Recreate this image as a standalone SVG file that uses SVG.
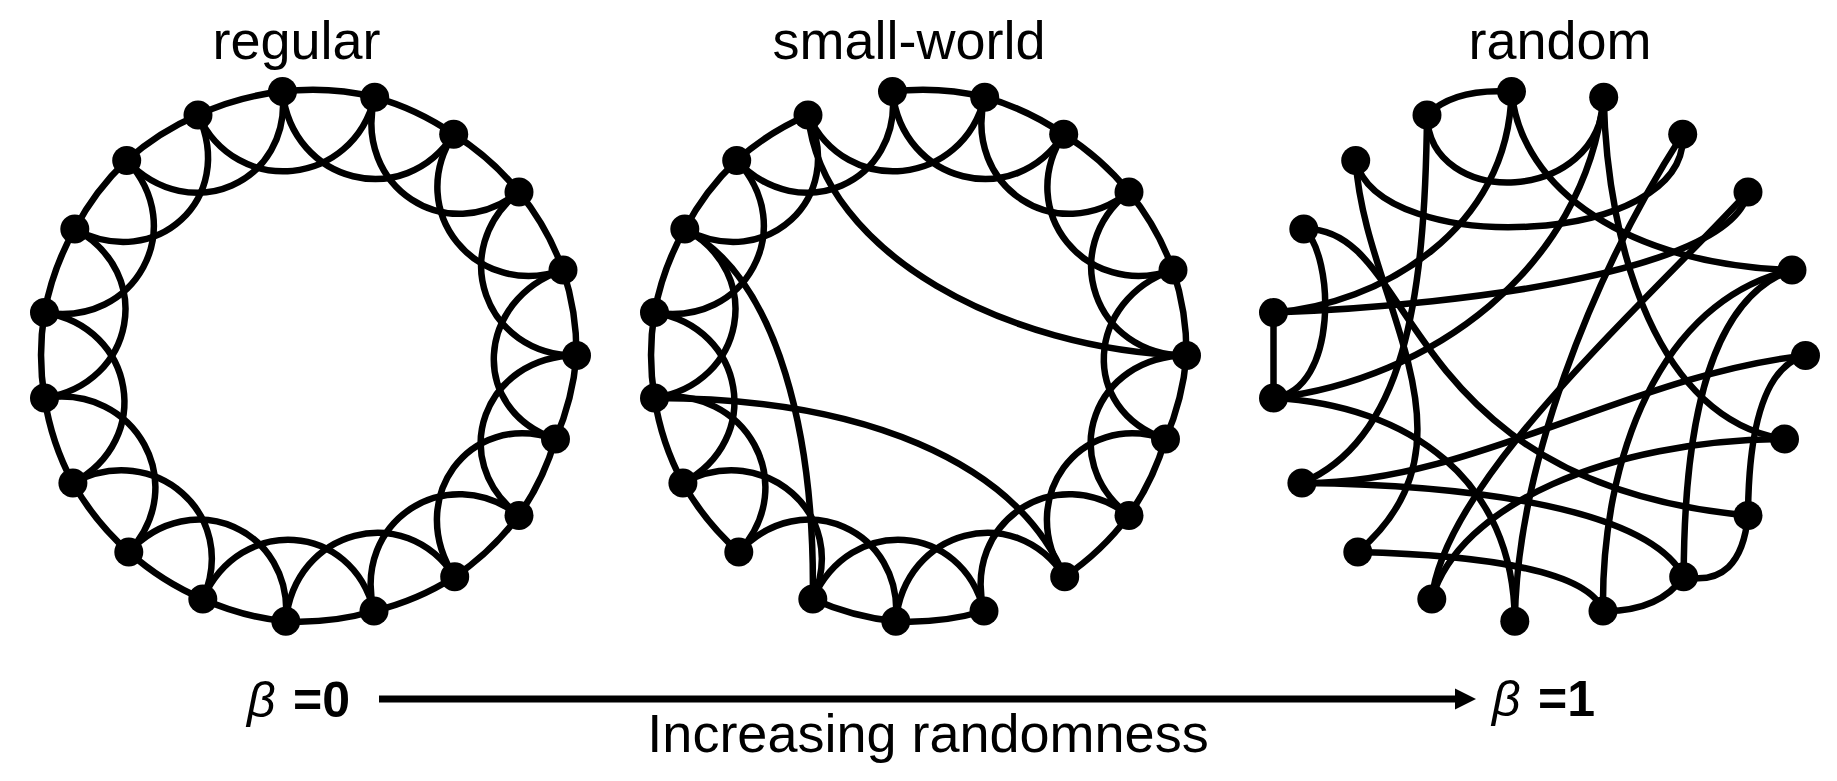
<svg xmlns="http://www.w3.org/2000/svg" width="1837" height="781" viewBox="0 0 1837 781">
<style>
.edges path{fill:none;stroke:#000;stroke-width:6.5;stroke-linecap:round}
.node use{fill:#000}
.lbl{font-family:"Liberation Sans",Arial,Helvetica,sans-serif;font-size:54px;fill:#000;text-anchor:middle}
.beta{font-family:"Liberation Sans",Arial,sans-serif;font-size:50px;font-style:italic;fill:#000}
.val{font-family:"Liberation Sans",Arial,sans-serif;font-size:50px;font-weight:bold;fill:#000}
</style>
<defs>
<marker id="ah" markerUnits="userSpaceOnUse" markerWidth="22" markerHeight="22" refX="3" refY="11" orient="auto">
<path d="M0,0.5 L21,11 L0,21.5 z" fill="#000"/>
</marker>
<circle id="dot" r="14.5"/>
</defs>

<text class="lbl" x="296.5" y="59">regular</text>
<text class="lbl" x="909" y="59">small-world</text>
<text class="lbl" x="1560" y="59">random</text>

<!-- REGULAR -->
<g id="regular">
<g id="regular-edges" class="edges">
<path d="M282.5,91.6 A266,266 0 0 1 374.7,97.2"/>
<path d="M374.7,97.2 A266,266 0 0 1 453.7,134.3"/>
<path d="M453.7,134.3 A266,266 0 0 1 519,192"/>
<path d="M519,192 A266,266 0 0 1 563,270"/>
<path d="M563,270 A266,266 0 0 1 576.5,355.5"/>
<path d="M576.5,355.5 A266,266 0 0 1 555.5,439"/>
<path d="M555.5,439 A266,266 0 0 1 519,515.4"/>
<path d="M519,515.4 A266,266 0 0 1 454.7,576.7"/>
<path d="M454.7,576.7 A266,266 0 0 1 374,611"/>
<path d="M374,611 A266,266 0 0 1 285.8,621.3"/>
<path d="M285.8,621.3 A266,266 0 0 1 202.8,599"/>
<path d="M202.8,599 A266,266 0 0 1 128.8,552"/>
<path d="M128.8,552 A266,266 0 0 1 72.9,483"/>
<path d="M72.9,483 A266,266 0 0 1 44.5,398"/>
<path d="M44.5,398 A266,266 0 0 1 44.5,312.5"/>
<path d="M44.5,312.5 A266,266 0 0 1 74.8,229"/>
<path d="M74.8,229 A266,266 0 0 1 126.7,160.4"/>
<path d="M126.7,160.4 A266,266 0 0 1 198,115"/>
<path d="M198,115 A266,266 0 0 1 282.5,91.6"/>
<path d="M282.5,91.6 C292.2,183.1 403.9,211.6 453.7,134.3"/>
<path d="M374.7,97.2 C352.6,186.5 446.8,249 519,192"/>
<path d="M453.7,134.3 C403.9,211.6 476,299.8 563,270"/>
<path d="M519,192 C446.8,249 484.5,355.8 576.5,355.5"/>
<path d="M563,270 C476,299.8 468.3,409.6 555.5,439"/>
<path d="M576.5,355.5 C484.5,355.8 445.8,459.6 519,515.4"/>
<path d="M555.5,439 C468.3,409.6 404.3,499.7 454.7,576.7"/>
<path d="M519,515.4 C445.8,459.6 351.7,521.7 374,611"/>
<path d="M454.7,576.7 C404.3,499.7 294.3,529.7 285.8,621.3"/>
<path d="M374,611 C351.7,521.7 240.2,514.9 202.8,599"/>
<path d="M285.8,621.3 C294.3,529.7 191.4,484.6 128.8,552"/>
<path d="M202.8,599 C240.2,514.9 154.1,439.8 72.9,483"/>
<path d="M128.8,552 C191.4,484.6 135.4,383.8 44.5,398"/>
<path d="M72.9,483 C154.1,439.8 135.3,327.5 44.5,312.5"/>
<path d="M44.5,398 C135.4,383.8 155.7,272.8 74.8,229"/>
<path d="M44.5,312.5 C135.3,327.5 189.6,227.5 126.7,160.4"/>
<path d="M74.8,229 C155.7,272.8 236.9,198.4 198,115"/>
<path d="M126.7,160.4 C189.6,227.5 292.2,183.1 282.5,91.6"/>
<path d="M198,115 C236.9,198.4 352.6,186.5 374.7,97.2"/>
</g>
<g id="reg-n0" class="node"><use href="#dot" x="282.5" y="91.6"/></g>
<g id="reg-n1" class="node"><use href="#dot" x="374.7" y="97.2"/></g>
<g id="reg-n2" class="node"><use href="#dot" x="453.7" y="134.3"/></g>
<g id="reg-n3" class="node"><use href="#dot" x="519" y="192"/></g>
<g id="reg-n4" class="node"><use href="#dot" x="563" y="270"/></g>
<g id="reg-n5" class="node"><use href="#dot" x="576.5" y="355.5"/></g>
<g id="reg-n6" class="node"><use href="#dot" x="555.5" y="439"/></g>
<g id="reg-n7" class="node"><use href="#dot" x="519" y="515.4"/></g>
<g id="reg-n8" class="node"><use href="#dot" x="454.7" y="576.7"/></g>
<g id="reg-n9" class="node"><use href="#dot" x="374" y="611"/></g>
<g id="reg-n10" class="node"><use href="#dot" x="285.8" y="621.3"/></g>
<g id="reg-n11" class="node"><use href="#dot" x="202.8" y="599"/></g>
<g id="reg-n12" class="node"><use href="#dot" x="128.8" y="552"/></g>
<g id="reg-n13" class="node"><use href="#dot" x="72.9" y="483"/></g>
<g id="reg-n14" class="node"><use href="#dot" x="44.5" y="398"/></g>
<g id="reg-n15" class="node"><use href="#dot" x="44.5" y="312.5"/></g>
<g id="reg-n16" class="node"><use href="#dot" x="74.8" y="229"/></g>
<g id="reg-n17" class="node"><use href="#dot" x="126.7" y="160.4"/></g>
<g id="reg-n18" class="node"><use href="#dot" x="198" y="115"/></g>
</g>

<!-- SMALL-WORLD -->
<g id="small-world" transform="translate(610,0)">
<g id="sw-edges" class="edges">
<path d="M282.5,91.6 A266,266 0 0 1 374.7,97.2"/>
<path d="M374.7,97.2 A266,266 0 0 1 453.7,134.3"/>
<path d="M453.7,134.3 A266,266 0 0 1 519,192"/>
<path d="M519,192 A266,266 0 0 1 563,270"/>
<path d="M563,270 A266,266 0 0 1 576.5,355.5"/>
<path d="M576.5,355.5 A266,266 0 0 1 555.5,439"/>
<path d="M555.5,439 A266,266 0 0 1 519,515.4"/>
<path d="M519,515.4 A266,266 0 0 1 454.7,576.7"/>
<path d="M374,611 A266,266 0 0 1 285.8,621.3"/>
<path d="M285.8,621.3 A266,266 0 0 1 202.8,599"/>
<path d="M128.8,552 A266,266 0 0 1 72.9,483"/>
<path d="M72.9,483 A266,266 0 0 1 44.5,398"/>
<path d="M44.5,398 A266,266 0 0 1 44.5,312.5"/>
<path d="M44.5,312.5 A266,266 0 0 1 74.8,229"/>
<path d="M74.8,229 A266,266 0 0 1 126.7,160.4"/>
<path d="M126.7,160.4 A266,266 0 0 1 198,115"/>
<path d="M282.5,91.6 C292.2,183.1 403.9,211.6 453.7,134.3"/>
<path d="M374.7,97.2 C352.6,186.5 446.8,249 519,192"/>
<path d="M453.7,134.3 C403.9,211.6 476,299.8 563,270"/>
<path d="M519,192 C446.8,249 484.5,355.8 576.5,355.5"/>
<path d="M563,270 C476,299.8 468.3,409.6 555.5,439"/>
<path d="M576.5,355.5 C484.5,355.8 445.8,459.6 519,515.4"/>
<path d="M555.5,439 C468.3,409.6 404.3,499.7 454.7,576.7"/>
<path d="M519,515.4 C445.8,459.6 351.7,521.7 374,611"/>
<path d="M454.7,576.7 C404.3,499.7 294.3,529.7 285.8,621.3"/>
<path d="M374,611 C351.7,521.7 240.2,514.9 202.8,599"/>
<path d="M285.8,621.3 C294.3,529.7 191.4,484.6 128.8,552"/>
<path d="M202.8,599 C240.2,514.9 154.1,439.8 72.9,483"/>
<path d="M128.8,552 C191.4,484.6 135.4,383.8 44.5,398"/>
<path d="M72.9,483 C154.1,439.8 135.3,327.5 44.5,312.5"/>
<path d="M44.5,398 C135.4,383.8 155.7,272.8 74.8,229"/>
<path d="M44.5,312.5 C135.3,327.5 189.6,227.5 126.7,160.4"/>
<path d="M74.8,229 C155.7,272.8 236.9,198.4 198,115"/>
<path d="M126.7,160.4 C189.6,227.5 292.2,183.1 282.5,91.6"/>
<path d="M198,115 C236.9,198.4 352.6,186.5 374.7,97.2"/>
<path d="M198,115 C212,255 400,350 576.5,355.5"/>
<path d="M202.8,599 C205,440 170,280 74.8,229"/>
<path d="M454.7,576.7 C405,460 250,398 44.5,398"/>
</g>
<g id="sw-n0" class="node"><use href="#dot" x="282.5" y="91.6"/></g>
<g id="sw-n1" class="node"><use href="#dot" x="374.7" y="97.2"/></g>
<g id="sw-n2" class="node"><use href="#dot" x="453.7" y="134.3"/></g>
<g id="sw-n3" class="node"><use href="#dot" x="519" y="192"/></g>
<g id="sw-n4" class="node"><use href="#dot" x="563" y="270"/></g>
<g id="sw-n5" class="node"><use href="#dot" x="576.5" y="355.5"/></g>
<g id="sw-n6" class="node"><use href="#dot" x="555.5" y="439"/></g>
<g id="sw-n7" class="node"><use href="#dot" x="519" y="515.4"/></g>
<g id="sw-n8" class="node"><use href="#dot" x="454.7" y="576.7"/></g>
<g id="sw-n9" class="node"><use href="#dot" x="374" y="611"/></g>
<g id="sw-n10" class="node"><use href="#dot" x="285.8" y="621.3"/></g>
<g id="sw-n11" class="node"><use href="#dot" x="202.8" y="599"/></g>
<g id="sw-n12" class="node"><use href="#dot" x="128.8" y="552"/></g>
<g id="sw-n13" class="node"><use href="#dot" x="72.9" y="483"/></g>
<g id="sw-n14" class="node"><use href="#dot" x="44.5" y="398"/></g>
<g id="sw-n15" class="node"><use href="#dot" x="44.5" y="312.5"/></g>
<g id="sw-n16" class="node"><use href="#dot" x="74.8" y="229"/></g>
<g id="sw-n17" class="node"><use href="#dot" x="126.7" y="160.4"/></g>
<g id="sw-n18" class="node"><use href="#dot" x="198" y="115"/></g>
</g>

<!-- RANDOM -->
<g id="random" transform="translate(1229,0)">
<g id="rnd-edges" class="edges">
<path d="M198,115 Q225,88 282.5,91.6"/>
<path d="M198,115 C200,210 372,205 374.7,97.2"/>
<path d="M198,115 C196,300 175,440 72.9,483"/>
<path d="M126.7,160.4 C150,258 460,248 453.7,134.3"/>
<path d="M126.7,160.4 C135,300 260,440 128.8,552"/>
<path d="M74.8,229 C190,225 165,483 519,515.4"/>
<path d="M74.8,229 C105,255 110,390 44.5,398"/>
<path d="M44.5,312.5 L44.5,398"/>
<path d="M44.5,312.5 C150,305 280,230 282.5,91.6"/>
<path d="M44.5,312.5 C250,305 505,268 519,192"/>
<path d="M374.7,97.2 C355,270 200,380 44.5,398"/>
<path d="M44.5,398 C180,405 285,480 285.8,621.3"/>
<path d="M72.9,483 C240,485 400,375 576.5,355.5"/>
<path d="M72.9,483 C250,485 420,510 454.7,576.7"/>
<path d="M128.8,552 C250,555 360,570 374,611"/>
<path d="M202.8,599 C230,505 380,440 555.5,439"/>
<path d="M202.8,599 C215,480 420,300 519,192"/>
<path d="M285.8,621.3 C288,470 360,280 453.7,134.3"/>
<path d="M374,611 C372,460 430,300 563,270"/>
<path d="M374,611 Q430,612 454.7,576.7"/>
<path d="M454.7,576.7 C455,440 475,300 563,270"/>
<path d="M454.7,576.7 Q512,588 519,515.4"/>
<path d="M576.5,355.5 Q520,370 519,515.4"/>
<path d="M374.7,97.2 C378,250 430,420 555.5,439"/>
<path d="M282.5,91.6 C292,190 400,265 563,270"/>
</g>
<g id="rnd-n0" class="node"><use href="#dot" x="282.5" y="91.6"/></g>
<g id="rnd-n1" class="node"><use href="#dot" x="374.7" y="97.2"/></g>
<g id="rnd-n2" class="node"><use href="#dot" x="453.7" y="134.3"/></g>
<g id="rnd-n3" class="node"><use href="#dot" x="519" y="192"/></g>
<g id="rnd-n4" class="node"><use href="#dot" x="563" y="270"/></g>
<g id="rnd-n5" class="node"><use href="#dot" x="576.5" y="355.5"/></g>
<g id="rnd-n6" class="node"><use href="#dot" x="555.5" y="439"/></g>
<g id="rnd-n7" class="node"><use href="#dot" x="519" y="515.4"/></g>
<g id="rnd-n8" class="node"><use href="#dot" x="454.7" y="576.7"/></g>
<g id="rnd-n9" class="node"><use href="#dot" x="374" y="611"/></g>
<g id="rnd-n10" class="node"><use href="#dot" x="285.8" y="621.3"/></g>
<g id="rnd-n11" class="node"><use href="#dot" x="202.8" y="599"/></g>
<g id="rnd-n12" class="node"><use href="#dot" x="128.8" y="552"/></g>
<g id="rnd-n13" class="node"><use href="#dot" x="72.9" y="483"/></g>
<g id="rnd-n14" class="node"><use href="#dot" x="44.5" y="398"/></g>
<g id="rnd-n15" class="node"><use href="#dot" x="44.5" y="312.5"/></g>
<g id="rnd-n16" class="node"><use href="#dot" x="74.8" y="229"/></g>
<g id="rnd-n17" class="node"><use href="#dot" x="126.7" y="160.4"/></g>
<g id="rnd-n18" class="node"><use href="#dot" x="198" y="115"/></g>
</g>

<!-- beta axis -->
<g id="axis">
<line x1="379" y1="699" x2="1458" y2="699" stroke="#000" stroke-width="7" marker-end="url(#ah)"/>
</g>
<text class="beta" x="247" y="717">β</text>
<text class="val" x="293" y="717">=0</text>
<text class="beta" x="1492" y="716">β</text>
<text class="val" x="1538" y="716">=1</text>
<text class="lbl" x="928" y="752">Increasing randomness</text>
</svg>
